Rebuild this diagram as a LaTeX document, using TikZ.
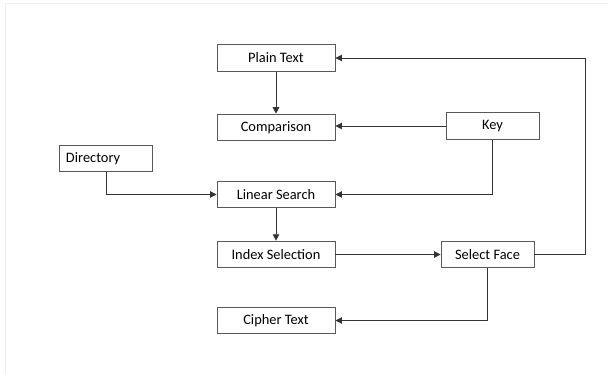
\documentclass[tikz,border=0pt]{standalone}
\usepackage{fontspec}
\setmainfont{Carlito}
\usetikzlibrary{arrows.meta}
\begin{document}
\begin{tikzpicture}[x=0.03cm, y=-0.03cm, >={Triangle[length=5.5pt,width=5.5pt]},
    line width=0.8pt, every node/.style={align=center, font=\fontsize{12.3}{14}\selectfont},
    box/.style={draw=black!65, minimum width=3.54cm, minimum height=0.8cm, inner sep=2pt},
    smallbox/.style={box, minimum width=2.79cm},
    link/.style={->, black!80}]

    \useasboundingbox (0,0) rectangle (608,374);

    % Cornice
    \draw[black!6, line width=0.6pt] (5,380) -- (5,3) -- (620,3);

    % Colonna centrale
    \node[box] (plain) at (276,58) {Plain Text};
    \node[box] (comp) at (276,127.5) {Comparison};
    \node[box] (lin) at (276,194.5) {Linear Search};
    \node[box] (idx) at (276,254.5) {Index Selection};
    \node[box] (cipher) at (276,320.5) {Cipher Text};

    % Nodi laterali
    \node[smallbox, text width=2.4cm, inner xsep=5pt, align=left] (dir) at (106,158.5) {Directory};
    \node[smallbox] (key) at (492.5,126) {Key};
    \node[smallbox] (face) at (487.5,254.5) {Select Face};
    \coordinate (loop) at (585,254.5);

    % Frecce verticali
    \draw[link] (plain) -- (comp);
    \draw[link] (lin) -- (idx);

    % Collegamenti
    \draw[link] (key.west) -- (key.west -| comp.east);
    \draw[link] (key.south) |- (lin.east);
    \draw[link] (dir.south) |- (lin.west);
    \draw[link] (idx) -- (face);
    \draw[link] (face.east) -- (loop) |- (plain.east);
    \draw[link] (face.south) |- (cipher.east);

\end{tikzpicture}
\end{document}
